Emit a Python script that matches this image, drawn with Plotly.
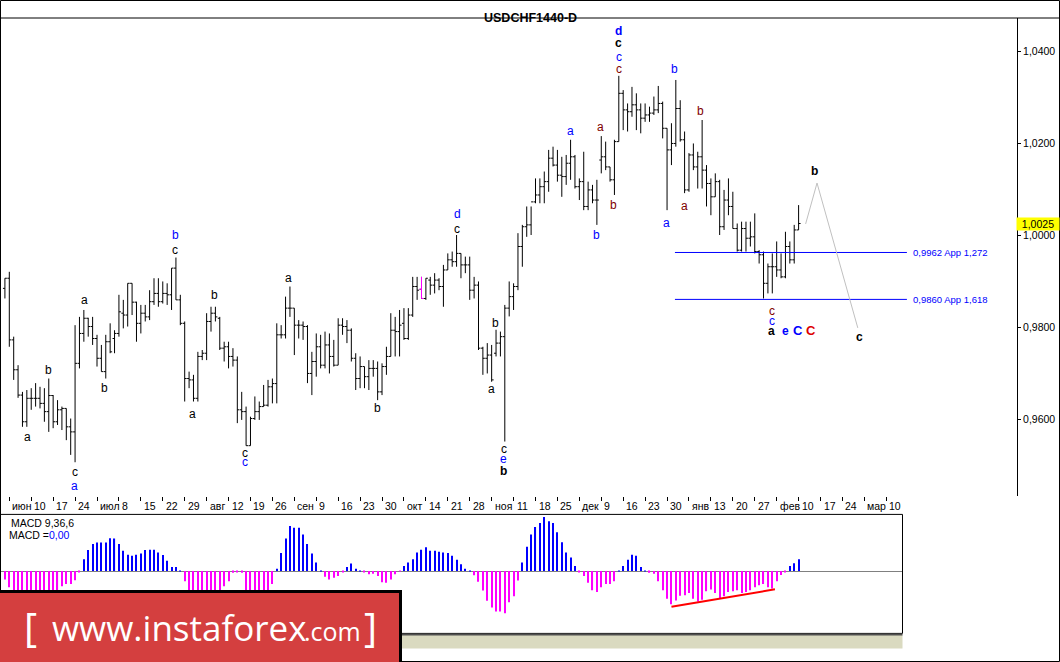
import plotly.graph_objects as go

# ---------------- data ----------------
bar_index = list(range(-1, 181))   # daily bars, 0 = first Monday of "июн"

opens = [0.9884,
 0.9906,0.9772,0.9707,0.9652,0.9594,0.9645,0.9645,0.9645,0.9634,0.9616,
 0.9651,0.9594,0.9620,0.9623,0.9583,0.9572,0.9721,0.9786,0.9819,0.9801,
 0.9775,0.9732,0.9703,0.9768,0.9775,0.9786,0.9830,0.9826,0.9895,0.9854,
 0.9808,0.9830,0.9822,0.9855,0.9873,0.9855,0.9873,0.9870,0.9928,0.9859,
 0.9808,0.9688,0.9685,0.9645,0.9736,0.9743,0.9812,0.9830,0.9819,0.9754,
 0.9757,0.9736,0.9728,0.9620,0.9616,0.9542,0.9601,0.9616,0.9627,0.9630,
 0.9670,0.9677,0.9783,0.9783,0.9841,0.9841,0.9804,0.9804,0.9801,0.9699,
 0.9725,0.9757,0.9717,0.9761,0.9736,0.9717,0.9804,0.9801,0.9793,0.9732,
 0.9688,0.9714,0.9692,0.9710,0.9710,0.9659,0.9714,0.9736,0.9793,0.9790,
 0.9808,0.9775,0.9826,0.9888,0.9882,0.9862,0.9902,0.9891,0.9902,0.9888,
 0.9924,0.9946,0.9942,0.9960,0.9935,0.9935,0.9880,0.9891,0.9754,0.9732,
 0.9739,0.9743,0.9765,0.9779,0.9841,0.9866,0.9888,0.9975,1.0018,1.0022,
 1.0072,1.0087,1.0105,1.0116,1.0167,1.0152,1.0130,1.0127,1.0156,1.0170,
 1.0105,1.0116,1.0062,1.0098,1.0076,1.0163,1.0170,1.0148,1.0120,1.0203,
 1.0308,1.0272,1.0268,1.0283,1.0272,1.0254,1.0261,1.0265,1.0272,1.0286,
 1.0232,1.0185,1.0199,1.0275,1.0207,1.0098,1.0174,1.0148,1.0170,1.0141,
 1.0112,1.0083,1.0116,1.0018,1.0076,1.0062,1.0014,0.9967,1.0014,0.9993,
 0.9996,0.9964,0.9957,0.9895,0.9931,0.9931,0.9924,0.9909,0.9975,0.9946,
 1.0011]

highs = [0.9906,
 0.9920,0.9779,0.9717,0.9659,0.9663,0.9667,0.9678,0.9670,0.9667,0.9688,
 0.9652,0.9641,0.9627,0.9623,0.9601,0.9804,0.9822,0.9837,0.9820,0.9822,
 0.9783,0.9761,0.9783,0.9808,0.9793,0.9870,0.9859,0.9895,0.9895,0.9855,
 0.9848,0.9848,0.9880,0.9906,0.9906,0.9899,0.9895,0.9928,0.9951,0.9870,
 0.9812,0.9703,0.9696,0.9746,0.9750,0.9830,0.9844,0.9844,0.9822,0.9768,
 0.9768,0.9754,0.9736,0.9659,0.9627,0.9605,0.9649,0.9638,0.9674,0.9685,
 0.9688,0.9808,0.9804,0.9866,0.9888,0.9841,0.9815,0.9812,0.9804,0.9746,
 0.9786,0.9783,0.9790,0.9786,0.9772,0.9819,0.9819,0.9815,0.9797,0.9743,
 0.9736,0.9714,0.9728,0.9728,0.9725,0.9721,0.9757,0.9830,0.9822,0.9837,
 0.9841,0.9841,0.9909,0.9909,0.9909,0.9906,0.9909,0.9917,0.9906,0.9935,
 0.9960,0.9964,1.0000,0.9960,0.9953,0.9953,0.9909,0.9899,0.9757,0.9765,
 0.9761,0.9794,0.9790,0.9848,0.9899,0.9895,1.0004,1.0022,1.0062,1.0062,
 1.0123,1.0123,1.0138,1.0185,1.0192,1.0185,1.0170,1.0174,1.0207,1.0174,
 1.0123,1.0181,1.0116,1.0109,1.0120,1.0215,1.0203,1.0148,1.0207,1.0346,
 1.0315,1.0286,1.0322,1.0308,1.0286,1.0286,1.0279,1.0301,1.0324,1.0290,
 1.0232,1.0243,1.0337,1.0293,1.0225,1.0178,1.0199,1.0181,1.0250,1.0152,
 1.0123,1.0134,1.0120,1.0098,1.0123,1.0094,1.0025,1.0029,1.0029,1.0029,
 1.0047,0.9967,0.9964,0.9938,0.9960,0.9986,0.9960,1.0007,0.9986,1.0022,
 1.0065]

lows = [0.9862,
 0.9757,0.9685,0.9646,0.9583,0.9583,0.9620,0.9627,0.9623,0.9594,0.9572,
 0.9580,0.9587,0.9576,0.9554,0.9522,0.9506,0.9710,0.9768,0.9779,0.9761,
 0.9714,0.9703,0.9688,0.9743,0.9743,0.9779,0.9797,0.9801,0.9826,0.9768,
 0.9786,0.9812,0.9815,0.9848,0.9844,0.9851,0.9848,0.9837,0.9859,0.9804,
 0.9638,0.9667,0.9638,0.9638,0.9728,0.9728,0.9790,0.9812,0.9750,0.9725,
 0.9710,0.9714,0.9591,0.9598,0.9542,0.9542,0.9598,0.9598,0.9627,0.9627,
 0.9634,0.9634,0.9775,0.9775,0.9822,0.9739,0.9775,0.9772,0.9678,0.9652,
 0.9692,0.9710,0.9710,0.9699,0.9714,0.9717,0.9783,0.9765,0.9725,0.9663,
 0.9667,0.9667,0.9663,0.9692,0.9641,0.9652,0.9696,0.9736,0.9736,0.9736,
 0.9772,0.9772,0.9822,0.9859,0.9862,0.9859,0.9870,0.9873,0.9880,0.9844,
 0.9924,0.9931,0.9931,0.9906,0.9917,0.9859,0.9862,0.9750,0.9696,0.9699,
 0.9681,0.9736,0.9736,0.9551,0.9823,0.9837,0.9880,0.9931,0.9996,1.0000,
 1.0069,1.0069,1.0069,1.0094,1.0149,1.0116,1.0083,1.0109,1.0120,1.0101,
 1.0076,1.0054,1.0054,1.0069,1.0022,1.0134,1.0141,1.0116,1.0087,1.0203,
 1.0228,1.0225,1.0257,1.0228,1.0221,1.0246,1.0246,1.0261,1.0265,1.0210,
 1.0054,1.0152,1.0192,1.0203,1.0091,1.0094,1.0141,1.0101,1.0101,1.0062,
 1.0043,1.0083,1.0000,1.0011,1.0043,1.0014,0.9964,0.9964,0.9964,0.9975,
 0.9960,0.9938,0.9862,0.9873,0.9873,0.9909,0.9906,0.9906,0.9938,0.9938,
 1.0011]

closes = [0.9906,
 0.9772,0.9707,0.9652,0.9594,0.9645,0.9645,0.9645,0.9634,0.9616,0.9651,
 0.9594,0.9620,0.9623,0.9583,0.9572,0.9721,0.9786,0.9819,0.9801,0.9775,
 0.9732,0.9703,0.9768,0.9746,0.9786,0.9833,0.9826,0.9895,0.9854,0.9808,
 0.9830,0.9822,0.9855,0.9873,0.9855,0.9873,0.9870,0.9928,0.9859,0.9808,
 0.9688,0.9685,0.9645,0.9736,0.9743,0.9812,0.9830,0.9822,0.9754,0.9757,
 0.9736,0.9728,0.9620,0.9616,0.9542,0.9601,0.9616,0.9627,0.9630,0.9670,
 0.9677,0.9783,0.9783,0.9841,0.9841,0.9804,0.9804,0.9801,0.9699,0.9725,
 0.9757,0.9717,0.9761,0.9736,0.9717,0.9804,0.9801,0.9793,0.9732,0.9688,
 0.9714,0.9692,0.9710,0.9710,0.9659,0.9714,0.9736,0.9793,0.9790,0.9804,
 0.9775,0.9826,0.9888,0.9880,0.9862,0.9906,0.9891,0.9902,0.9888,0.9924,
 0.9946,0.9942,0.9960,0.9935,0.9935,0.9880,0.9891,0.9754,0.9732,0.9739,
 0.9685,0.9765,0.9779,0.9841,0.9866,0.9888,0.9975,1.0018,1.0022,1.0072,
 1.0087,1.0105,1.0116,1.0167,1.0152,1.0130,1.0127,1.0156,1.0170,1.0105,
 1.0116,1.0062,1.0098,1.0076,1.0076,1.0170,1.0148,1.0120,1.0203,1.0308,
 1.0272,1.0268,1.0283,1.0272,1.0254,1.0261,1.0265,1.0272,1.0286,1.0232,
 1.0185,1.0199,1.0275,1.0207,1.0098,1.0174,1.0148,1.0170,1.0141,1.0112,
 1.0083,1.0116,1.0018,1.0076,1.0062,1.0014,0.9967,1.0014,0.9993,0.9996,
 0.9964,0.9957,0.9895,0.9931,0.9931,0.9924,0.9909,0.9975,0.9946,1.0011,
 1.0025]

highlighted_bar = 94          # the one bar drawn in magenta
last_price = 1.0025

macd = [-0.00083,
 -0.00160,-0.00220,-0.00250,-0.00270,-0.00280,-0.00280,-0.00270,-0.00260,-0.00250,-0.00240,
 -0.00220,-0.00193,-0.00150,-0.00127,-0.00127,-0.00090,-0.00007,0.00117,0.00207,0.00267,
 0.00280,0.00280,0.00280,0.00323,0.00320,0.00267,0.00200,0.00160,0.00150,0.00160,
 0.00173,0.00207,0.00210,0.00210,0.00183,0.00157,0.00100,0.00040,0.00040,0.00003,
 -0.00100,-0.00220,-0.00240,-0.00250,-0.00250,-0.00240,-0.00220,-0.00200,-0.00193,-0.00150,
 -0.00100,-0.00017,-0.00010,-0.00017,-0.00220,-0.00250,-0.00260,-0.00250,-0.00230,-0.00200,
 -0.00127,0.00023,0.00177,0.00320,0.00443,0.00427,0.00427,0.00360,0.00267,0.00173,
 0.00083,0.00003,-0.00057,-0.00083,-0.00067,-0.00050,-0.00010,0.00040,0.00073,0.00023,
 0.00003,-0.00007,-0.00033,-0.00027,-0.00050,-0.00110,-0.00117,-0.00083,-0.00033,-0.00003,
 0.00050,0.00083,0.00117,0.00183,0.00210,0.00233,0.00200,0.00200,0.00190,0.00183,
 0.00177,0.00150,0.00110,0.00067,0.00023,0.00003,-0.00043,-0.00107,-0.00193,-0.00293,
 -0.00360,-0.00400,-0.00400,-0.00417,-0.00307,-0.00250,-0.00093,0.00083,0.00240,0.00360,
 0.00433,0.00473,0.00533,0.00490,0.00473,0.00383,0.00283,0.00183,0.00133,0.00050,
 -0.00005,-0.00050,-0.00117,-0.00190,-0.00207,-0.00160,-0.00127,-0.00127,-0.00100,0.00003,
 0.00050,0.00110,0.00160,0.00150,0.00040,0.00003,-0.00017,-0.00027,-0.00100,-0.00190,
 -0.00273,-0.00327,-0.00290,-0.00243,-0.00240,-0.00217,-0.00273,-0.00300,-0.00283,-0.00200,
 -0.00183,-0.00217,-0.00267,-0.00250,-0.00207,-0.00200,-0.00190,-0.00217,-0.00207,-0.00190,
 -0.00160,-0.00140,-0.00127,-0.00160,-0.00173,-0.00100,-0.00040,-0.00010,0.00050,0.00077,
 0.00117]

macd_trend_x = [151.0, 174.6]
macd_trend_y = [-0.00352, -0.00181]

week_index = [5 * k for k in range(41)]
week_labels = ["июн", "10", "17", "24", "июл", "8", "15", "22", "29", "авг", "12", "19", "26",
               "сен", "9", "16", "23", "30", "окт", "14", "21", "28", "ноя", "11", "18", "25",
               "дек", "9", "16", "23", "30", "янв", "13", "20", "27", "фев", "10", "17", "24",
               "мар", "10"]

price_ticks = [0.96, 0.98, 1.00, 1.02, 1.04]
price_tick_text = ["0,9600", "0,9800", "1,0000", "1,0200", "1,0400"]

fib_levels = [0.9962, 0.9860]
fib_text = ["0,9962 App 1,272", "0,9860 App 1,618"]
fib_span = [151.8, 204.7]

projection_x = [181.6, 184.2, 193.5]
projection_y = [1.0024, 1.0113, 0.9798]

# wave labels: (bar position, price, text, colour, bold, size)
BLK, BLU, DRD, RED = "#000000", "#0000FF", "#800000", "#DD0000"
wave_labels = [
    (4.04, 0.9561, "a", BLK, False, 12), (8.83, 0.9707, "b", BLK, False, 12),
    (14.98, 0.9485, "c", BLK, False, 12), (14.98, 0.9454, "a", BLU, False, 12),
    (17.04, 0.9859, "a", BLK, False, 12), (21.82, 0.9667, "b", BLK, False, 12),
    (37.79, 1.0000, "b", BLU, False, 12), (37.79, 0.9967, "c", BLK, False, 12),
    (41.89, 0.9611, "a", BLK, False, 12), (46.9, 0.9870, "b", BLK, False, 12),
    (53.75, 0.9526, "c", BLK, False, 12), (53.75, 0.9507, "c", BLU, False, 12),
    (63.78, 0.9907, "a", BLK, False, 12), (84.08, 0.9624, "b", BLK, False, 12),
    (102.1, 1.0046, "d", BLU, False, 12), (102.1, 1.0013, "c", BLK, False, 12),
    (110.8, 0.9809, "b", BLK, False, 12), (109.9, 0.9665, "a", BLK, False, 12),
    (112.8, 0.9535, "c", BLK, False, 12), (112.8, 0.9513, "e", BLU, False, 12),
    (112.8, 0.9487, "b", BLK, True, 12),
    (127.9, 1.0226, "a", BLU, False, 12), (133.8, 1.0000, "b", BLU, False, 12),
    (134.9, 1.0235, "a", DRD, False, 12), (137.9, 1.0065, "b", DRD, False, 12),
    (139.0, 1.0443, "d", BLU, True, 12), (139.0, 1.0417, "c", BLK, True, 12),
    (139.0, 1.0387, "c", BLU, False, 12), (139.0, 1.0361, "c", DRD, False, 12),
    (151.8, 1.0361, "b", BLU, False, 12), (149.8, 1.0026, "a", BLU, False, 12),
    (157.7, 1.0270, "b", DRD, False, 12), (153.9, 1.0063, "a", DRD, False, 12),
    (173.9, 0.9835, "c", DRD, False, 12), (173.9, 0.9813, "c", BLU, False, 12),
    (173.9, 0.9791, "a", BLK, True, 12), (177.1, 0.9791, "e", BLU, True, 12),
    (179.9, 0.9793, "C", BLU, True, 13), (182.8, 0.9793, "C", RED, True, 13),
    (193.8, 0.9778, "c", BLK, True, 12), (183.7, 1.0139, "b", BLK, True, 12),
]

# ---------------- layout geometry ----------------
W, H = 1060, 662
X0, STEP = 9.3, 4.385          # pixel x of bar 0 and bar spacing


def px(x):
    return x / W


def py(y):
    return (H - y) / H


FONT = "Liberation Sans"

fig = go.Figure()

# price bars
fig.add_trace(go.Ohlc(
    x=bar_index, open=opens, high=highs, low=lows, close=closes,
    increasing=dict(line=dict(color="black", width=1)),
    decreasing=dict(line=dict(color="black", width=1)),
    tickwidth=0.45, hoverinfo="skip", showlegend=False,
    xaxis="x", yaxis="y"))

k = bar_index.index(highlighted_bar)
hx = highlighted_bar
fig.add_trace(go.Scatter(
    x=[hx, hx, None, hx - 0.45, hx, None, hx, hx + 0.45],
    y=[highs[k], lows[k], None, opens[k], opens[k], None, closes[k], closes[k]],
    mode="lines", line=dict(color="#FF00FF", width=1),
    hoverinfo="skip", showlegend=False, xaxis="x", yaxis="y"))

# fibonacci levels
for lvl in fib_levels:
    fig.add_trace(go.Scatter(
        x=fib_span, y=[lvl, lvl], mode="lines",
        line=dict(color="#0000FF", width=1),
        hoverinfo="skip", showlegend=False, xaxis="x", yaxis="y"))

# projection
fig.add_trace(go.Scatter(
    x=projection_x, y=projection_y, mode="lines",
    line=dict(color="#C0C0C0", width=1),
    hoverinfo="skip", showlegend=False, xaxis="x", yaxis="y"))

# MACD histogram
fig.add_trace(go.Bar(
    x=bar_index, y=macd, width=0.25,
    marker=dict(color=["#0000FF" if v >= 0 else "#FF00FF" for v in macd],
                line=dict(width=0)),
    hoverinfo="skip", showlegend=False, xaxis="x2", yaxis="y2"))

fig.add_trace(go.Scatter(
    x=macd_trend_x, y=macd_trend_y, mode="lines",
    line=dict(color="#FF0000", width=2),
    hoverinfo="skip", showlegend=False, xaxis="x2", yaxis="y2"))

x_range = [(0 - X0) / STEP, (1017 - X0) / STEP]
x2_range = [(0 - X0) / STEP, (902.5 - X0) / STEP]
y_range = [1 + (235 - 496) / 4600, 1 + (235 - 18) / 4600]
y2_range = [-(633.4 - 571) / 1.0142 * 1e-4, (571 - 514.4) / 1.0142 * 1e-4]

shapes = [
    # title separator
    dict(type="line", xref="paper", yref="paper", x0=0, x1=1, y0=py(18), y1=py(18),
         line=dict(color="black", width=1)),
    # MACD panel frame
    dict(type="rect", xref="paper", yref="paper", x0=px(0.5), x1=px(902.5),
         y0=py(633.4), y1=py(514.4), line=dict(color="black", width=1)),
    # hatched strip
    dict(type="rect", xref="paper", yref="paper", x0=0, x1=px(902.5),
         y0=py(648.6), y1=py(635), fillcolor="#DADAC0", line=dict(width=0)),
    dict(type="line", xref="paper", yref="paper", x0=0, x1=px(902.5),
         y0=py(634.5), y1=py(634.5), line=dict(color="#505050", width=2)),
    # outer frame
    dict(type="rect", xref="paper", yref="paper", x0=px(0.5), x1=px(1059.5),
         y0=py(661.5), y1=py(0.5), line=dict(color="black", width=1)),
    # logo box
    dict(type="rect", xref="paper", yref="paper", x0=-0.01, x1=px(400.5),
         y0=-0.01, y1=py(591.5), fillcolor="#D43F3F",
         line=dict(color="black", width=3)),
]

annotations = [
    dict(text="<b>USDCHF1440-D</b>", xref="paper", yref="paper", x=px(530), y=py(9.5),
         showarrow=False, font=dict(family=FONT, size=12.5, color="black")),
    dict(text="1,0025", xref="paper", yref="y", x=px(1016), y=last_price,
         xanchor="left", yanchor="middle", showarrow=False, bgcolor="#FFFF00",
         width=42, height=12, borderpad=0,
         font=dict(family=FONT, size=10.5, color="black")),
    dict(text="MACD 9,36,6", xref="paper", yref="paper", x=px(8.5), y=py(523),
         xanchor="left", yanchor="middle", showarrow=False,
         font=dict(family=FONT, size=10.5, color="black")),
    dict(text="MACD =<span style='color:#0000FF'>0,00</span>", xref="paper", yref="paper",
         x=px(6.5), y=py(534.5), xanchor="left", yanchor="middle", showarrow=False,
         font=dict(family=FONT, size=10.5, color="black")),
    # logo text
    dict(text="[", xref="paper", yref="paper", x=px(22), y=py(626),
         xanchor="left", yanchor="middle", showarrow=False,
         font=dict(family="Open Sans", size=40, color="white")),
    dict(text="www.instaforex", xref="paper", yref="paper", x=px(50), y=py(627),
         xanchor="left", yanchor="middle", showarrow=False,
         font=dict(family="Open Sans", size=35, color="white")),
    dict(text=".com", xref="paper", yref="paper", x=px(302), y=py(631),
         xanchor="left", yanchor="middle", showarrow=False,
         font=dict(family="Open Sans", size=25, color="white")),
    dict(text="]", xref="paper", yref="paper", x=px(362), y=py(626),
         xanchor="left", yanchor="middle", showarrow=False,
         font=dict(family="Open Sans", size=40, color="white")),
]

for wi, wl in zip(week_index, week_labels):
    annotations.append(dict(text=wl, xref="x", yref="paper", x=wi, y=py(506),
                            xanchor="left", yanchor="middle", xshift=1, showarrow=False,
                            font=dict(family=FONT, size=10.5, color="black")))

for lvl, txt in zip(fib_levels, fib_text):
    annotations.append(dict(text=txt, xref="x", yref="y", x=fib_span[1], y=lvl,
                            xanchor="left", yanchor="middle", xshift=4, showarrow=False,
                            font=dict(family=FONT, size=9.5, color="#0000FF")))

for xi, pr, txt, col, bold, sz in wave_labels:
    annotations.append(dict(text=f"<b>{txt}</b>" if bold else txt, xref="x", yref="y",
                            x=xi, y=pr, xanchor="center", yanchor="middle",
                            showarrow=False,
                            font=dict(family=FONT, size=sz, color=col)))

fig.update_layout(
    width=W, height=H, autosize=False,
    margin=dict(l=0, r=0, t=0, b=0, pad=0),
    paper_bgcolor="white", plot_bgcolor="rgba(0,0,0,0)",
    showlegend=False,
    xaxis=dict(domain=[0, px(1017)], range=x_range, anchor="y",
               showgrid=False, zeroline=False, showline=False,
               ticks="outside", ticklen=4, tickcolor="black", tickwidth=1,
               tickvals=week_index, showticklabels=False,
               rangeslider=dict(visible=False), fixedrange=True),
    yaxis=dict(domain=[py(496), py(18)], range=y_range, anchor="x", side="right",
               showgrid=False, zeroline=False, showline=True, linecolor="black",
               linewidth=1, ticks="outside", ticklen=3, tickcolor="black",
               tickvals=price_ticks, ticktext=price_tick_text,
               tickfont=dict(family=FONT, size=10.5, color="black"), fixedrange=True),
    xaxis2=dict(domain=[0, px(902.5)], range=x2_range, anchor="y2",
                showgrid=False, zeroline=False, showline=False, showticklabels=False,
                ticks="", fixedrange=True),
    yaxis2=dict(domain=[py(633.4), py(514.4)], range=y2_range, anchor="x2",
                showgrid=False, zeroline=True, zerolinecolor="#808080", zerolinewidth=1,
                showline=False, showticklabels=False, ticks="", fixedrange=True),
    shapes=shapes, annotations=annotations,
)

fig.write_html("out.html", config={"displayModeBar": False},
               post_script="document.body.style.margin='0';document.body.style.overflow='hidden';")
